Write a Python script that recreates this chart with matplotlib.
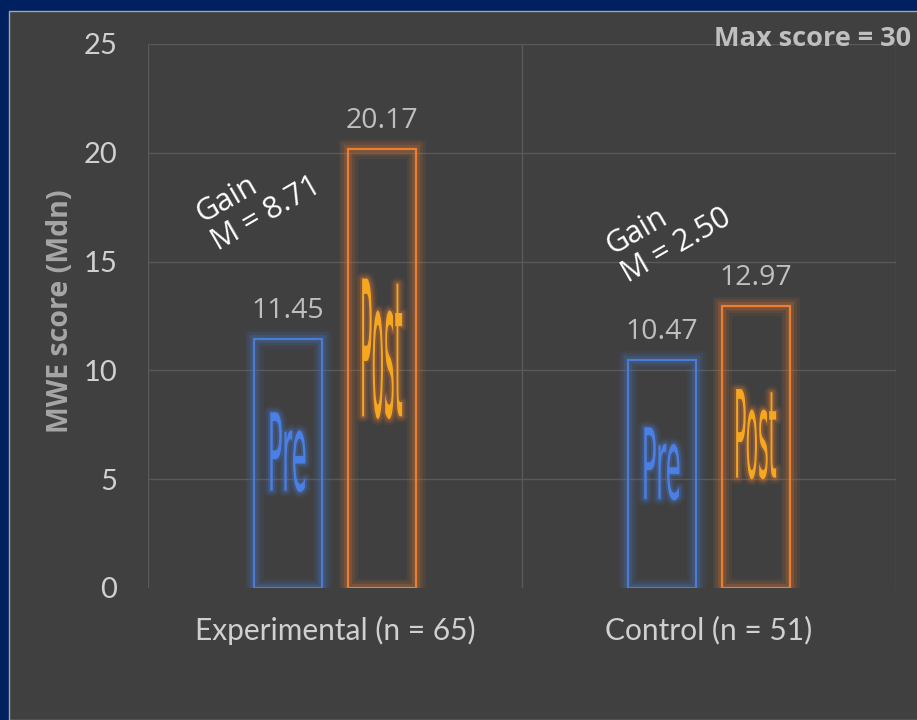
import matplotlib
matplotlib.use("Agg")
import matplotlib.pyplot as plt
import matplotlib.patheffects as pe
from matplotlib.patches import Rectangle
from matplotlib.patheffects import AbstractPathEffect
from matplotlib.transforms import Affine2D
import numpy as np

# --- data ---
groups = ["Experimental (n = 65)", "Control (n = 51)"]
pre_scores = [11.45, 10.47]
post_scores = [20.17, 12.97]
gains = ["8.71", "2.50"]
phase_names = ["Pre", "Post"]
y_ticks = [0, 5, 10, 15, 20, 25]

# --- colours ---
NAVY = "#002060"
PANEL = "#404040"
GRID = "#595959"
LIGHT = "#BFBFBF"
BLUE = "#4A7CD6"
ORANGE = "#ED7D31"
PRE_TXT = "#4A80E6"
POST_TXT = "#F5A81F"


class GlowFit(AbstractPathEffect):
    """stretch the text path into a box given in data coords, with a soft glow"""
    def __init__(self, ax, box, glow, layers=((9, 0.08), (6, 0.14), (3, 0.25))):
        super().__init__()
        self.ax = ax
        self.box = box
        self.glow = glow
        self.layers = layers

    def draw_path(self, renderer, gc, tpath, affine, rgbFace=None):
        ext = tpath.get_extents(affine)
        (bx0, by0), (bx1, by1) = self.ax.transData.transform(
            [(self.box[0], self.box[1]), (self.box[2], self.box[3])])
        fit = affine + (Affine2D().translate(-ext.x0, -ext.y0)
                        .scale((bx1 - bx0) / ext.width, (by1 - by0) / ext.height)
                        .translate(bx0, by0))
        for lw, a in self.layers:
            g = renderer.new_gc()
            g.copy_properties(gc)
            g.set_alpha(a)
            g.set_foreground(self.glow)
            g.set_linewidth(lw)
            g.set_joinstyle("round")
            renderer.draw_path(g, tpath, fit, None)
            g.restore()
        renderer.draw_path(gc, tpath, fit, rgbFace)


def glow(color):
    return [pe.Stroke(linewidth=14, foreground=color, alpha=0.07),
            pe.Stroke(linewidth=10, foreground=color, alpha=0.11),
            pe.Stroke(linewidth=6, foreground=color, alpha=0.18),
            pe.Normal()]


fig = plt.figure(figsize=(9.17, 7.2), dpi=100, facecolor=NAVY)
fig.patches.append(Rectangle((9 / 917, 0), 1, 1 - 11 / 720, transform=fig.transFigure,
                             facecolor=PANEL, edgecolor="#A6A6A6", lw=1, zorder=-5))

ax = fig.add_axes([148 / 917, 132 / 720, 748 / 917, 544 / 720])
ax.set_facecolor("none")
ax.set_xlim(-0.5, 1.5)
ax.set_ylim(0, 25)
for s in ax.spines.values():
    s.set_visible(False)

# gridlines (Excel style, category borders)
for yv in y_ticks[1:]:
    ax.axhline(yv, color=GRID, lw=1, zorder=1)
for xv in [-0.5, 0.5, 1.5]:
    ax.axvline(xv, color=GRID, lw=1, zorder=1)

x = np.arange(len(groups))
off = 0.126
w = 0.18
bars = []
for vals, dx, col in [(pre_scores, -off, BLUE), (post_scores, off, ORANGE)]:
    b = ax.bar(x + dx, vals, width=w, facecolor="none", edgecolor=col, lw=1.6, zorder=3)
    for r in b:
        r.set_path_effects(glow(col))
    bars.append(b)

# value labels
for b in bars:
    for r in b:
        ax.annotate(f"{r.get_height():.2f}", (r.get_x() + r.get_width() / 2, r.get_height()),
                    xytext=(0, 10), textcoords="offset points", ha="center", va="bottom",
                    fontsize=20.5, color=LIGHT, family="Open Sans", zorder=4)

# Pre / Post stretched labels inside bars
for b, name, tcol, gcol, tw in [(bars[0], phase_names[0], PRE_TXT, BLUE, 0.094),
                                (bars[1], phase_names[1], POST_TXT, ORANGE, 0.107)]:
    for r in b:
        cx = r.get_x() + r.get_width() / 2
        h = r.get_height()
        box = (cx - tw / 2, 0.385 * h, cx + tw / 2, 0.705 * h)
        t = ax.text(cx, 0.545 * h, name, ha="center", va="center", fontsize=18,
                    color=tcol, family="DejaVu Sans", zorder=4)
        t.set_path_effects([GlowFit(ax, box, gcol)])

# gain annotations (anchor = baseline start of the "M = ..." line)
gain_pos = [(-0.3155, 15.56), (0.781, 14.09)]
for (gx, gy), g in zip(gain_pos, gains):
    ax.text(gx, gy, f"Gain\nM = {g}", rotation=30, rotation_mode="anchor",
            ha="left", va="baseline", fontsize=22, color="white",
            family="Open Sans", linespacing=1.1, zorder=5)

ax.set_yticks(y_ticks)
ax.set_yticklabels([str(v) for v in y_ticks])
ax.set_xticks(x)
ax.set_xticklabels(groups)
ax.tick_params(axis="y", length=0, pad=22, labelsize=21, labelcolor="#D0D0D0")
ax.tick_params(axis="x", length=0, pad=20, labelsize=21.5, labelcolor="#D0D0D0")
for lab in ax.get_xticklabels() + ax.get_yticklabels():
    lab.set_family("Lato")

fig.text(60 / 917, (720 - 311) / 720, "MWE score (Mdn)", rotation=90, ha="center", va="center",
         fontsize=20.5, fontweight="bold", color="#A6A6A6", family="Open Sans")
fig.text(911 / 917, (720 - 46) / 720, "Max score = 30", ha="right", va="baseline",
         fontsize=19.5, fontweight="bold", color=LIGHT, family="Open Sans")

fig.savefig("out.png", dpi=100, facecolor=NAVY)
